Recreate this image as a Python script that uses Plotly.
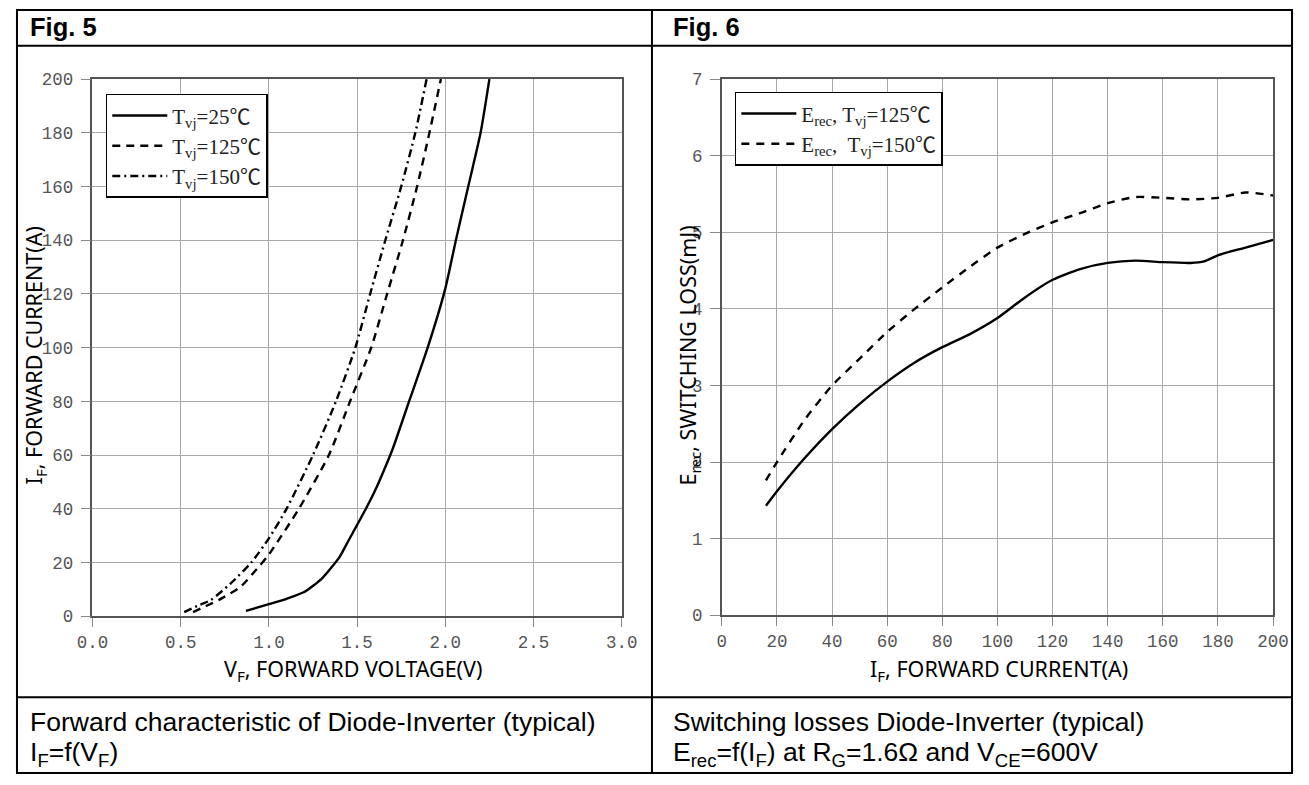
import plotly.graph_objects as go

W, H = 1309, 785

# ---- Fig. 5 data: forward characteristic ----
vf_25 = [0.87, 1.0, 1.1, 1.2, 1.3, 1.4, 1.45, 1.5, 1.55, 1.6, 1.65, 1.7, 1.8, 1.9, 2.0, 2.06, 2.13, 2.2, 2.25]
if_25 = [2, 4.5, 6.5, 9, 14, 22, 28, 34, 40, 46.5, 54, 62, 81, 100, 122, 140, 160, 180, 200]
vf_125 = [0.57, 0.65, 0.72, 0.84, 0.95, 1.0, 1.17, 1.34, 1.46, 1.58, 1.67, 1.76, 1.84, 1.91, 1.975]
if_125 = [1.5, 4, 6.2, 11, 19, 23, 40, 60, 80, 100, 120, 140, 160, 180, 200]
vf_150 = [0.52, 0.6, 0.67, 0.78, 0.9, 1.0, 1.1, 1.25, 1.38, 1.49, 1.574, 1.66, 1.75, 1.83, 1.894]
if_150 = [1.5, 4, 6, 12, 20, 29, 40, 60, 80, 100, 120, 140, 160, 180, 200]

# ---- Fig. 6 data: switching losses ----
ic_125 = [16, 20, 30, 40, 50, 60, 70, 80, 90, 100, 110, 120, 130, 140, 150, 160, 170, 175, 180, 190, 200]
erec_125 = [1.43, 1.62, 2.05, 2.43, 2.76, 3.05, 3.30, 3.50, 3.67, 3.88, 4.15, 4.38, 4.52, 4.60, 4.63, 4.61, 4.60, 4.62, 4.70, 4.80, 4.90]
ic_150 = [16, 20, 30, 40, 50, 60, 70, 80, 90, 100, 110, 120, 130, 140, 150, 160, 170, 180, 190, 200]
erec_150 = [1.76, 2.0, 2.55, 3.0, 3.35, 3.70, 4.0, 4.28, 4.55, 4.80, 4.98, 5.13, 5.25, 5.38, 5.46, 5.45, 5.43, 5.45, 5.52, 5.48]

x1_ticks = [0.0, 0.5, 1.0, 1.5, 2.0, 2.5, 3.0]
y1_ticks = [0, 20, 40, 60, 80, 100, 120, 140, 160, 180, 200]
x2_ticks = [0, 20, 40, 60, 80, 100, 120, 140, 160, 180, 200]
y2_ticks = [0, 1, 2, 3, 4, 5, 6, 7]

# the photographed page shows the figure slightly shrunk and offset;
# map intended screen pixels to figure pixels
OX, OY, SX, SY = 15.1, 8.1, 0.977, 0.9756

def px(x):
    f = (x - OX) / SX
    return min(max(f, 1), W - 1) / W

def py(y):
    f = (y - OY) / SY
    return 1 - min(max(f, 1), H - 1) / H

fig = go.Figure()
LW = 2.4
fig.add_trace(go.Scatter(x=vf_25, y=if_25, mode='lines', name='T<sub>vj</sub>=25℃',
                         line=dict(color='black', width=LW, shape='spline', smoothing=0.6),
                         xaxis='x', yaxis='y', legend='legend'))
fig.add_trace(go.Scatter(x=vf_125, y=if_125, mode='lines', name='T<sub>vj</sub>=125℃',
                         line=dict(color='black', width=LW, dash='8px,6px', shape='spline', smoothing=0.6),
                         xaxis='x', yaxis='y', legend='legend'))
fig.add_trace(go.Scatter(x=vf_150, y=if_150, mode='lines', name='T<sub>vj</sub>=150℃',
                         line=dict(color='black', width=LW, dash='8px,4px,2px,4px', shape='spline', smoothing=0.6),
                         xaxis='x', yaxis='y', legend='legend'))
fig.add_trace(go.Scatter(x=ic_125, y=erec_125, mode='lines', name='E<sub>rec</sub>, T<sub>vj</sub>=125℃',
                         line=dict(color='black', width=LW, shape='spline', smoothing=0.6),
                         xaxis='x2', yaxis='y2', legend='legend2'))
fig.add_trace(go.Scatter(x=ic_150, y=erec_150, mode='lines', name='E<sub>rec</sub>,  T<sub>vj</sub>=150℃',
                         line=dict(color='black', width=LW, dash='8px,7px', shape='spline', smoothing=0.6),
                         xaxis='x2', yaxis='y2', legend='legend2'))

tickfont = dict(family='Liberation Mono', size=17.5, color='#555')
common = dict(showgrid=True, gridcolor='#a8a8a8', gridwidth=1, zeroline=False,
              showline=True, linecolor='#555', linewidth=1.5, mirror=True,
              ticks='outside', tickcolor='#888', tickfont=tickfont)

legfont = dict(family='Liberation Serif, Noto Sans CJK SC', size=21, color='#222')

fig.update_layout(
    width=W, height=H, margin=dict(l=0, r=0, t=0, b=0),
    paper_bgcolor='white', plot_bgcolor='white',
    xaxis=dict(domain=[px(91.7), px(621.7)], range=[0, 3], tickvals=x1_ticks,
               ticktext=['%.1f' % v for v in x1_ticks], anchor='y', ticklen=9, **common),
    yaxis=dict(domain=[py(616), py(78.3)], range=[0, 200], tickvals=y1_ticks, anchor='x',
               ticklen=10, ticklabelstandoff=4, **common),
    xaxis2=dict(domain=[px(722), px(1274)], range=[0, 200], tickvals=x2_ticks, anchor='y2', ticklen=9, **common),
    yaxis2=dict(domain=[py(615), py(78.3)], range=[0, 7], tickvals=y2_ticks, anchor='x2',
                ticklen=10, ticklabelstandoff=4, **common),
    legend=dict(x=px(105), y=py(93), xanchor='left', yanchor='top', xref='paper', yref='paper',
                bgcolor='white', bordercolor='black', borderwidth=1.5, itemwidth=55,
                font=legfont, tracegroupgap=0),
    legend2=dict(x=px(735), y=py(91), xanchor='left', yanchor='top', xref='paper', yref='paper',
                 bgcolor='white', bordercolor='black', borderwidth=1.5, itemwidth=55,
                 font=legfont, tracegroupgap=0),
)

# frame lines
frame = dict(color='black', width=2)
shapes = [
    dict(type='rect', xref='paper', yref='paper', x0=px(3), x1=px(1306), y0=py(782), y1=py(4), line=frame),
    dict(type='line', xref='paper', yref='paper', x0=px(3), x1=px(1306), y0=py(45), y1=py(45), line=frame),
    dict(type='line', xref='paper', yref='paper', x0=px(3), x1=px(1306), y0=py(697), y1=py(697), line=frame),
    dict(type='line', xref='paper', yref='paper', x0=px(652), x1=px(652), y0=py(4), y1=py(782), line=frame),
]
fig.update_layout(shapes=shapes)

title_font = dict(family='Noto Sans', size=21.5, color='black')
head_font = dict(family='Liberation Sans', size=25.5, color='black')
cap_font = dict(family='Liberation Sans', size=26.5, color='black')

ann = [
    dict(text='<b>Fig. 5</b>', x=px(27), y=py(26), xanchor='left', yanchor='middle', font=head_font),
    dict(text='<b>Fig. 6</b>', x=px(671), y=py(26), xanchor='left', yanchor='middle', font=head_font),
    dict(text='V<sub>F</sub>, FORWARD VOLTAGE(V)', x=px(353), y=py(670), xanchor='center', yanchor='middle', font=title_font),
    dict(text='I<sub>F</sub>, FORWARD CURRENT(A)', x=px(1000), y=py(670), xanchor='center', yanchor='middle', font=title_font),
    dict(text='I<sub>F</sub>, FORWARD CURRENT(A)', x=px(34), y=py(355), xanchor='center', yanchor='middle', textangle=-90, font=title_font),
    dict(text='E<sub>rec</sub>, SWITCHING LOSS(mJ)', x=px(689), y=py(355), xanchor='center', yanchor='middle', textangle=-90, font=title_font),
    dict(text='Forward characteristic of Diode-Inverter (typical)', x=px(27), y=py(722), xanchor='left', yanchor='middle', font=cap_font),
    dict(text='I<sub>F</sub>=f(V<sub>F</sub>)', x=px(27), y=py(754), xanchor='left', yanchor='middle', font=cap_font),
    dict(text='Switching losses Diode-Inverter (typical)', x=px(671), y=py(722), xanchor='left', yanchor='middle', font=cap_font),
    dict(text='E<sub>rec</sub>=f(I<sub>F</sub>) at R<sub>G</sub>=1.6Ω and V<sub>CE</sub>=600V', x=px(671), y=py(754), xanchor='left', yanchor='middle', font=cap_font),
]
for a in ann:
    a.update(xref='paper', yref='paper', showarrow=False)
fig.update_layout(annotations=ann)

post = ("document.body.style.margin='0';document.body.style.padding='0';"
        "document.documentElement.style.overflow='hidden';")

fig.write_html('out.html', config={'displayModeBar': False}, post_script=post)
